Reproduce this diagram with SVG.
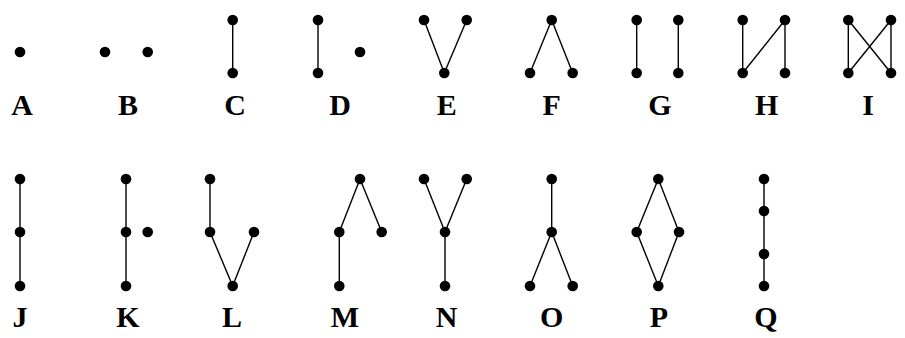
<svg xmlns="http://www.w3.org/2000/svg" width="905" height="338" viewBox="0 0 905 338">
<style>
.n{fill:#000}
.e{stroke:#000;stroke-width:1.4;fill:none}
.l{font-family:"Liberation Serif","DejaVu Serif",serif;font-weight:bold;font-size:30px;text-anchor:middle;fill:#000}
</style>
<defs><circle id="d" r="5.3" class="n"/></defs>
<rect width="905" height="338" fill="#fff"/>
<g id="edges">
<line class="e" x1="232.7" y1="20" x2="232.7" y2="73"/>
<line class="e" x1="318" y1="20" x2="318" y2="73"/>
<line class="e" x1="424" y1="20" x2="444.3" y2="73"/>
<line class="e" x1="466.7" y1="20" x2="444.3" y2="73"/>
<line class="e" x1="551.7" y1="20" x2="530" y2="73"/>
<line class="e" x1="551.7" y1="20" x2="572.7" y2="73"/>
<line class="e" x1="636.7" y1="20" x2="636.7" y2="73"/>
<line class="e" x1="678.3" y1="20" x2="678.3" y2="73"/>
<line class="e" x1="742.7" y1="20" x2="742.7" y2="73"/>
<line class="e" x1="742.7" y1="73" x2="785" y2="20"/>
<line class="e" x1="785" y1="20" x2="785" y2="73"/>
<line class="e" x1="848.3" y1="20" x2="848.3" y2="73"/>
<line class="e" x1="891" y1="20" x2="891" y2="73"/>
<line class="e" x1="848.3" y1="20" x2="891" y2="73"/>
<line class="e" x1="891" y1="20" x2="848.3" y2="73"/>
<line class="e" x1="20" y1="179" x2="20" y2="286"/>
<line class="e" x1="126" y1="179" x2="126" y2="286"/>
<line class="e" x1="210" y1="179" x2="210" y2="232"/>
<line class="e" x1="210" y1="232" x2="232.7" y2="286"/>
<line class="e" x1="254" y1="232" x2="232.7" y2="286"/>
<line class="e" x1="360" y1="179" x2="339.3" y2="232"/>
<line class="e" x1="360" y1="179" x2="381.7" y2="232"/>
<line class="e" x1="339.3" y1="232" x2="339.3" y2="286"/>
<line class="e" x1="424" y1="179" x2="445" y2="232"/>
<line class="e" x1="466.7" y1="179" x2="445" y2="232"/>
<line class="e" x1="445" y1="232" x2="445" y2="286"/>
<line class="e" x1="551.7" y1="179" x2="551.7" y2="232"/>
<line class="e" x1="551.7" y1="232" x2="530" y2="286"/>
<line class="e" x1="551.7" y1="232" x2="572.7" y2="286"/>
<line class="e" x1="658.3" y1="179" x2="636.7" y2="232"/>
<line class="e" x1="658.3" y1="179" x2="679" y2="232"/>
<line class="e" x1="636.7" y1="232" x2="658.3" y2="286"/>
<line class="e" x1="679" y1="232" x2="658.3" y2="286"/>
<line class="e" x1="764" y1="179" x2="764" y2="286"/>
</g>
<g id="A"><use href="#d" x="20" y="52"/><text class="l" x="22" y="115">A</text></g>
<g id="B"><use href="#d" x="105" y="52"/><use href="#d" x="147.7" y="52"/><text class="l" x="128" y="115">B</text></g>
<g id="C"><use href="#d" x="232.7" y="20"/><use href="#d" x="232.7" y="73"/><text class="l" x="235" y="115">C</text></g>
<g id="D"><use href="#d" x="318" y="20"/><use href="#d" x="318" y="73"/><use href="#d" x="360" y="52"/><text class="l" x="340" y="115">D</text></g>
<g id="E"><use href="#d" x="424" y="20"/><use href="#d" x="466.7" y="20"/><use href="#d" x="444.3" y="73"/><text class="l" x="446.7" y="115">E</text></g>
<g id="F"><use href="#d" x="551.7" y="20"/><use href="#d" x="530" y="73"/><use href="#d" x="572.7" y="73"/><text class="l" x="551.7" y="115">F</text></g>
<g id="G"><use href="#d" x="636.7" y="20"/><use href="#d" x="636.7" y="73"/><use href="#d" x="678.3" y="20"/><use href="#d" x="678.3" y="73"/><text class="l" x="660" y="115">G</text></g>
<g id="H"><use href="#d" x="742.7" y="20"/><use href="#d" x="742.7" y="73"/><use href="#d" x="785" y="20"/><use href="#d" x="785" y="73"/><text class="l" x="766.7" y="115">H</text></g>
<g id="I"><use href="#d" x="848.3" y="20"/><use href="#d" x="848.3" y="73"/><use href="#d" x="891" y="20"/><use href="#d" x="891" y="73"/><text class="l" x="868" y="115">I</text></g>
<g id="J"><use href="#d" x="20" y="179"/><use href="#d" x="20" y="232"/><use href="#d" x="20" y="286"/><text class="l" x="20" y="327">J</text></g>
<g id="K"><use href="#d" x="126" y="179"/><use href="#d" x="126" y="232"/><use href="#d" x="126" y="286"/><use href="#d" x="147.7" y="232"/><text class="l" x="128" y="327">K</text></g>
<g id="L"><use href="#d" x="210" y="179"/><use href="#d" x="210" y="232"/><use href="#d" x="254" y="232"/><use href="#d" x="232.7" y="286"/><text class="l" x="232" y="327">L</text></g>
<g id="M"><use href="#d" x="360" y="179"/><use href="#d" x="339.3" y="232"/><use href="#d" x="381.7" y="232"/><use href="#d" x="339.3" y="286"/><text class="l" x="345" y="327">M</text></g>
<g id="N"><use href="#d" x="424" y="179"/><use href="#d" x="466.7" y="179"/><use href="#d" x="445" y="232"/><use href="#d" x="445" y="286"/><text class="l" x="446.7" y="327">N</text></g>
<g id="O"><use href="#d" x="551.7" y="179"/><use href="#d" x="551.7" y="232"/><use href="#d" x="530" y="286"/><use href="#d" x="572.7" y="286"/><text class="l" x="551.7" y="327">O</text></g>
<g id="P"><use href="#d" x="658.3" y="179"/><use href="#d" x="636.7" y="232"/><use href="#d" x="679" y="232"/><use href="#d" x="658.3" y="286"/><text class="l" x="659" y="327">P</text></g>
<g id="Q"><use href="#d" x="764" y="179"/><use href="#d" x="764" y="211"/><use href="#d" x="764" y="254"/><use href="#d" x="764" y="286"/><text class="l" x="766" y="327">Q</text></g>
</svg>
